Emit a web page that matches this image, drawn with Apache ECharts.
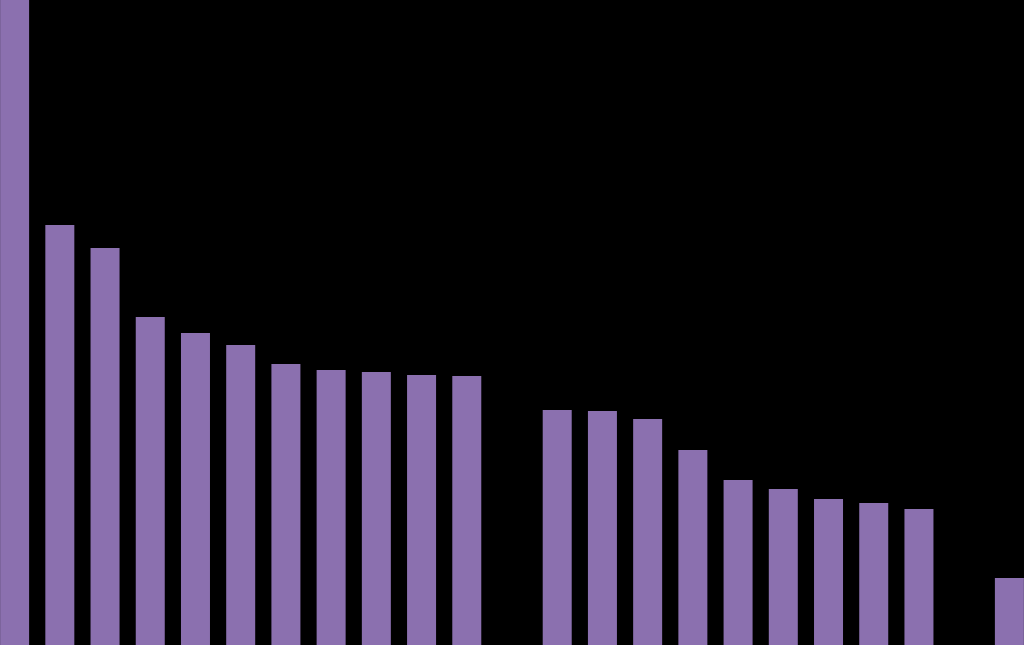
<!DOCTYPE html>
<html>
<head>
<meta charset="utf-8">
<script src="https://cdn.jsdelivr.net/npm/echarts@6/dist/echarts.min.js"></script>
<style>
html,body{margin:0;padding:0;background:#000;overflow:hidden;width:1024px;height:645px;}
#chart{width:1040px;height:645px;margin-left:-8px;}
</style>
</head>
<body>
<div id="chart"></div>
<script>
var categories = ['1','2','3','4','5','6','7','8','9','10','11','12','13','14','15','16','17','18','19','20','21','22','23'];
var values = [645, 420, 397, 328, 312, 300, 281, 275, 273, 270, 269, null, 235, 234, 226, 195, 165, 156, 146, 142, 136, null, 67];

var chart = echarts.init(document.getElementById('chart'));
chart.setOption({
  backgroundColor: '#000000',
  animation: false,
  grid: { left: 0, right: 0, top: 0, bottom: 0, containLabel: false },
  xAxis: {
    type: 'category',
    data: categories,
    show: false
  },
  yAxis: {
    type: 'value',
    min: 0,
    max: 645,
    show: false
  },
  series: [{
    type: 'bar',
    data: values,
    barWidth: 29,
    itemStyle: { color: '#8B70AF' }
  }]
});
</script>
</body>
</html>
